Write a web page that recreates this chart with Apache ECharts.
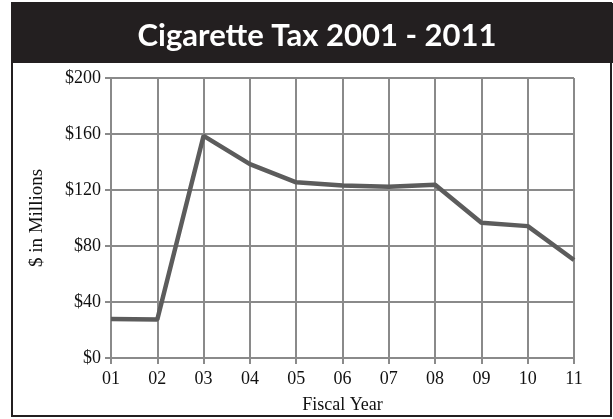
<!DOCTYPE html>
<html>
<head>
<meta charset="utf-8">
<script src="https://cdn.jsdelivr.net/npm/echarts@6/dist/echarts.min.js"></script>
<style>
html, body { margin: 0; padding: 0; background: #fff; }
#chart { width: 613px; height: 419px; }
</style>
</head>
<body>
<div id="chart"></div>
<script>
// fiscal years and tax revenue ($ millions)
var years = ['01', '02', '03', '04', '05', '06', '07', '08', '09', '10', '11'];
var taxValues = [27.8, 27.5, 158.7, 138.5, 125.5, 123.2, 122.4, 123.8, 96.6, 94.2, 70];
var yTicks = [0, 40, 80, 120, 160, 200];

var oChart = echarts.init(document.getElementById('chart'));
var serif = '"Liberation Serif", "DejaVu Serif", serif';
var gridGray = '#8a8a8a';

var opt = {
  animation: false,
  backgroundColor: '#fff',
  graphic: [
    {
      type: 'rect',
      shape: { x: 12, y: 3, width: 599, height: 413 },
      style: { fill: '#fff', stroke: '#231f20', lineWidth: 2 },
      z: -10
    },
    {
      type: 'rect',
      shape: { x: 11, y: 3, width: 602, height: 60 },
      style: { fill: '#231f20' },
      z: -5
    }
  ],
  title: {
    text: 'Cigarette Tax 2001 - 2011',
    left: 312,
    textAlign: 'center',
    top: 15,
    textStyle: {
      color: '#fff',
      fontFamily: 'Lato, "Open Sans", sans-serif',
      fontWeight: 'bold',
      fontSize: 31
    }
  },
  grid: {
    left: 111,
    right: 39,
    top: 78,
    bottom: 60
  },
  xAxis: {
    type: 'category',
    boundaryGap: false,
    data: years,
    name: 'Fiscal Year',
    nameLocation: 'middle',
    nameGap: 38,
    nameTextStyle: { color: '#111', fontFamily: serif, fontSize: 18 },
    axisLine: { lineStyle: { color: gridGray, width: 2 } },
    axisTick: { show: true, length: 6, lineStyle: { color: gridGray, width: 2 } },
    axisLabel: { color: '#111', fontFamily: serif, fontSize: 18, margin: 12 },
    splitLine: { show: true, lineStyle: { color: gridGray, width: 2 } }
  },
  yAxis: {
    type: 'value',
    min: yTicks[0],
    max: yTicks[yTicks.length - 1],
    interval: 40,
    name: '$ in Millions',
    nameLocation: 'middle',
    nameGap: 64,
    nameTextStyle: { color: '#111', fontFamily: serif, fontSize: 19 },
    axisLine: { show: true, lineStyle: { color: gridGray, width: 2 } },
    axisTick: { show: true, length: 6, lineStyle: { color: gridGray, width: 2 } },
    axisLabel: {
      color: '#111', fontFamily: serif, fontSize: 18, margin: 10,
      formatter: function (v) { return '$' + v; }
    },
    splitLine: { show: true, lineStyle: { color: gridGray, width: 2 } }
  },
  series: [
    {
      type: 'line',
      data: taxValues,
      showSymbol: false,
      symbol: 'none',
      lineStyle: { color: '#5c5c5c', width: 4.5 },
      z: 5
    }
  ]
};
oChart.setOption(opt);
</script>
</body>
</html>
